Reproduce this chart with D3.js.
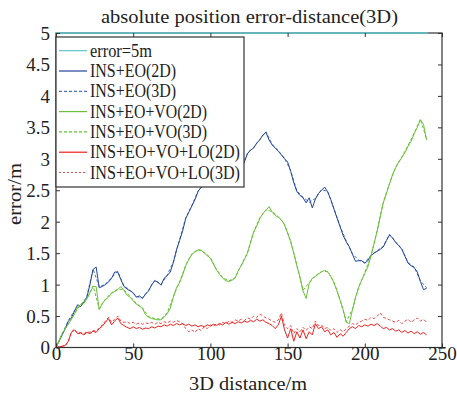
<!DOCTYPE html>
<html><head><meta charset="utf-8">
<script src="https://cdn.jsdelivr.net/npm/d3@7"></script>
<style>body{margin:0;background:#fff}svg{display:block}text{font-family:"Liberation Serif","DejaVu Serif",serif;fill:#222}</style>
</head><body><svg id="c" width="457" height="398"></svg>
<script>
const title = "absolute position error-distance(3D)";
const xLabel = "3D distance/m";
const yLabel = "error/m";
const xTicks = [0,50,100,150,200,250];
const yTicks = [0,0.5,1,1.5,2,2.5,3,3.5,4,4.5,5];
const legendNames = ["error=5m","INS+EO(2D)","INS+EO(3D)","INS+EO+VO(2D)","INS+EO+VO(3D)","INS+EO+VO+LO(2D)","INS+EO+VO+LO(3D)"];

const step2 = 2;   // distance spacing of the 2D series (m)
const step3 = 4;   // distance spacing of the 3D EO / EO+VO series (m)
const limitDist = [0,241];
const limitErr = [5,5];

const eo2D = [0,0.1,0.2,0.3,0.42,0.47,0.58,0.68,0.65,0.72,0.8,1.0,1.24,1.28,0.95,0.97,1.0,1.04,1.1,1.2,
1.2,1.08,0.97,0.93,0.9,0.87,0.8,0.82,0.78,0.85,0.9,1.0,1.06,1.04,0.99,1.1,1.14,1.2,1.35,1.55,
1.7,1.85,2.05,2.15,2.25,2.35,2.48,2.55,2.58,2.61,2.65,2.7,2.72,2.75,2.78,2.8,2.82,2.84,2.83,2.82,
2.85,2.95,3.08,3.14,3.17,3.25,3.3,3.38,3.42,3.3,3.22,3.17,3.12,3.06,3.0,2.95,2.8,2.62,2.48,2.42,
2.38,2.3,2.38,2.22,2.36,2.45,2.5,2.55,2.47,2.35,2.2,2.06,1.92,1.78,1.68,1.6,1.48,1.37,1.38,1.38,
1.34,1.38,1.46,1.5,1.53,1.56,1.6,1.7,1.79,1.74,1.67,1.62,1.56,1.45,1.34,1.3,1.27,1.2,1.05,0.92,0.94];

const eo3D = [0,0.21,0.43,0.59,0.66,0.81,1.25,0.96,1.01,1.11,1.21,0.98,0.91,0.81,0.79,0.91,1.07,1.0,1.15,1.36,
1.71,2.06,2.26,2.49,2.59,2.66,2.73,2.79,2.83,2.84,2.86,3.09,3.18,3.31,3.43,3.23,3.13,3.01,2.81,2.49,
2.39,2.31,2.37,2.51,2.48,2.21,1.93,1.69,1.49,1.39,1.35,1.47,1.54,1.61,1.8,1.68,1.57,1.35,1.28,1.06,0.95];

const vo2D = [0,0.1,0.22,0.3,0.37,0.45,0.53,0.65,0.68,0.7,0.77,0.87,0.97,0.97,0.6,0.7,0.76,0.8,0.86,0.89,
0.92,0.97,0.91,0.83,0.8,0.74,0.69,0.66,0.62,0.52,0.48,0.46,0.45,0.44,0.44,0.48,0.54,0.62,0.8,0.95,
1.03,1.15,1.3,1.4,1.48,1.52,1.55,1.55,1.5,1.46,1.42,1.32,1.23,1.16,1.1,1.06,1.05,1.07,1.1,1.22,
1.3,1.4,1.5,1.67,1.83,1.93,2.05,2.13,2.18,2.24,2.15,2.1,2.07,2.03,1.95,1.82,1.68,1.5,1.3,1.12,
0.9,0.78,1.02,1.1,1.13,1.17,1.2,1.23,1.2,1.13,1.03,0.9,0.75,0.6,0.4,0.38,0.6,0.8,0.95,1.07,
1.18,1.28,1.45,1.65,1.85,2.08,2.3,2.45,2.6,2.75,2.86,2.95,3.02,3.1,3.2,3.28,3.4,3.5,3.62,3.55,3.3];

const vo3D = [0,0.23,0.38,0.54,0.69,0.78,0.98,0.62,0.77,0.87,0.93,0.92,0.81,0.7,0.63,0.49,0.46,0.45,0.55,0.81,
1.04,1.31,1.49,1.56,1.51,1.43,1.24,1.11,1.06,1.11,1.31,1.51,1.84,2.06,2.19,2.16,2.08,1.96,1.69,1.31,
0.91,1.03,1.14,1.21,1.21,1.04,0.76,0.41,0.61,0.96,1.19,1.46,1.86,2.31,2.61,2.87,3.03,3.21,3.41,3.63,3.31];

const lo2D = [0,0.01,0.02,0.03,0.1,0.24,0.28,0.22,0.23,0.2,0.24,0.22,0.26,0.24,0.3,0.34,0.4,0.46,0.36,0.42,
0.47,0.38,0.35,0.32,0.3,0.33,0.3,0.32,0.29,0.31,0.3,0.33,0.31,0.34,0.33,0.36,0.34,0.37,0.35,0.38,
0.36,0.38,0.35,0.37,0.34,0.36,0.33,0.35,0.33,0.36,0.34,0.37,0.35,0.38,0.36,0.4,0.37,0.4,0.38,0.41,
0.39,0.42,0.4,0.43,0.41,0.45,0.42,0.44,0.4,0.38,0.35,0.3,0.36,0.5,0.28,0.15,0.3,0.1,0.25,0.15,
0.28,0.14,0.25,0.2,0.38,0.3,0.33,0.25,0.28,0.2,0.24,0.16,0.22,0.18,0.24,0.3,0.33,0.3,0.35,0.33,
0.36,0.34,0.37,0.35,0.38,0.34,0.3,0.32,0.28,0.3,0.26,0.28,0.24,0.27,0.23,0.26,0.22,0.25,0.21,0.24,0.2];

const lo3D = [0,0.01,0.02,0.03,0.1,0.25,0.29,0.23,0.24,0.22,0.25,0.24,0.27,0.26,0.31,0.36,0.42,0.48,0.4,0.45,
0.5,0.42,0.4,0.41,0.38,0.4,0.37,0.39,0.37,0.39,0.38,0.4,0.37,0.4,0.38,0.41,0.39,0.42,0.4,0.43,
0.41,0.38,0.3,0.25,0.28,0.24,0.3,0.27,0.33,0.3,0.36,0.34,0.38,0.36,0.4,0.38,0.42,0.4,0.44,0.42,
0.45,0.43,0.47,0.45,0.5,0.48,0.53,0.5,0.47,0.45,0.42,0.4,0.44,0.55,0.35,0.3,0.35,0.22,0.3,0.25,
0.32,0.27,0.33,0.3,0.42,0.35,0.36,0.3,0.32,0.27,0.3,0.24,0.28,0.25,0.3,0.34,0.38,0.36,0.4,0.42,
0.45,0.43,0.48,0.46,0.5,0.55,0.48,0.46,0.44,0.42,0.4,0.43,0.38,0.42,0.45,0.4,0.44,0.47,0.42,0.45,0.4];

const colors = {cyan:"#5cc6cc", blue:"#23449c", blue3:"#4a74c8", green:"#6cbf3c", green3:"#62c230", red:"#ee2020", red3:"#f04848"};

const svg = d3.select("#c");
const M = {l:56, r:442, t:33, b:347.5};
const x = d3.scaleLinear().domain([0,250]).range([M.l, M.r]);
const y = d3.scaleLinear().domain([0,5]).range([M.b, M.t]);

svg.append("defs").append("clipPath").attr("id","clip").append("rect")
  .attr("x",M.l).attr("y",M.t-1).attr("width",M.r-M.l).attr("height",M.b-M.t+1);

const toPts = (arr, step) => arr.map((v,i)=>[i*step, v]);
const line = d3.line().x(d=>x(d[0])).y(d=>y(d[1]));
const g = svg.append("g").attr("clip-path","url(#clip)");

const series = [
  {pts: toPts(eo3D, step3), c: colors.blue3, dash:"3,2"},
  {pts: toPts(eo2D, step2), c: colors.blue, dash:null},
  {pts: toPts(vo3D, step3), c: colors.green3, dash:"3,2"},
  {pts: toPts(vo2D, step2), c: colors.green, dash:null},
  {pts: toPts(lo3D, step2), c: colors.red3, dash:"3,2"},
  {pts: toPts(lo2D, step2), c: colors.red, dash:null}
];
series.forEach(s=>{
  g.append("path").attr("d", line(s.pts)).attr("fill","none")
    .attr("stroke", s.c).attr("stroke-width",1).attr("stroke-dasharray", s.dash);
});

// frame
svg.append("rect").attr("x",M.l).attr("y",M.t).attr("width",M.r-M.l).attr("height",M.b-M.t)
  .attr("fill","none").attr("stroke","#333").attr("stroke-width",1.2);

// limit line
svg.append("path").attr("d", line(limitDist.map((d,i)=>[d, limitErr[i]])))
  .attr("stroke", colors.cyan).attr("stroke-width",1.6).attr("fill","none");

// axes
const xa = svg.append("g").attr("transform",`translate(0,${M.b})`)
  .call(d3.axisBottom(x).tickValues(xTicks).tickSize(-4).tickPadding(4).tickFormat(d3.format("d")));
const xaTop = svg.append("g").attr("transform",`translate(0,${M.t})`)
  .call(d3.axisTop(x).tickValues(xTicks).tickSize(-4).tickFormat(""));
const ya = svg.append("g").attr("transform",`translate(${M.l},0)`)
  .call(d3.axisLeft(y).tickValues(yTicks).tickSize(-4).tickPadding(6).tickFormat(d=>String(d)));
const yaR = svg.append("g").attr("transform",`translate(${M.r},0)`)
  .call(d3.axisRight(y).tickValues(yTicks).tickSize(-4).tickFormat(""));
[xa,xaTop,ya,yaR].forEach(a=>{
  a.select(".domain").remove();
  a.selectAll(".tick line").attr("stroke","#333");
  a.selectAll("text").attr("font-family","Liberation Serif").attr("font-size",19).attr("fill","#222");
});
xa.selectAll("text").attr("dy","0.62em").attr("y",1);
ya.selectAll("text").attr("dy","0.34em");

// titles
svg.append("text").attr("x",249.5).attr("y",23).attr("text-anchor","middle")
  .attr("font-size",19).attr("textLength",297).attr("lengthAdjust","spacingAndGlyphs").text(title);
svg.append("text").attr("x",248).attr("y",390).attr("text-anchor","middle")
  .attr("font-size",19).attr("textLength",118).attr("lengthAdjust","spacingAndGlyphs").text(xLabel);
svg.append("text").attr("transform","translate(21,194) rotate(-90)").attr("text-anchor","middle")
  .attr("font-size",19).attr("textLength",62).attr("lengthAdjust","spacingAndGlyphs").text(yLabel);

// legend
const lg = svg.append("g");
lg.append("rect").attr("x",56).attr("y",37).attr("width",188).attr("height",150)
  .attr("fill","#fff").attr("stroke","#333").attr("stroke-width",1.2);
const lgColors = [colors.cyan, colors.blue, colors.blue3, colors.green, colors.green3, colors.red, colors.red3];
const lgDash = [null,null,"3,2",null,"3,2",null,"2,2"];
const lgLen = [62,86,86,117,117,150,150];
legendNames.forEach((n,i)=>{
  const yy = 50.7 + i*20.3;
  lg.append("line").attr("x1",59).attr("x2",87).attr("y1",yy).attr("y2",yy)
    .attr("stroke",lgColors[i]).attr("stroke-width",1.2).attr("stroke-dasharray",lgDash[i]);
  lg.append("text").attr("x",90).attr("y",yy).attr("dy","0.34em").attr("font-size",18)
    .attr("textLength",lgLen[i]).attr("lengthAdjust","spacingAndGlyphs").text(n);
});
</script></body></html>
